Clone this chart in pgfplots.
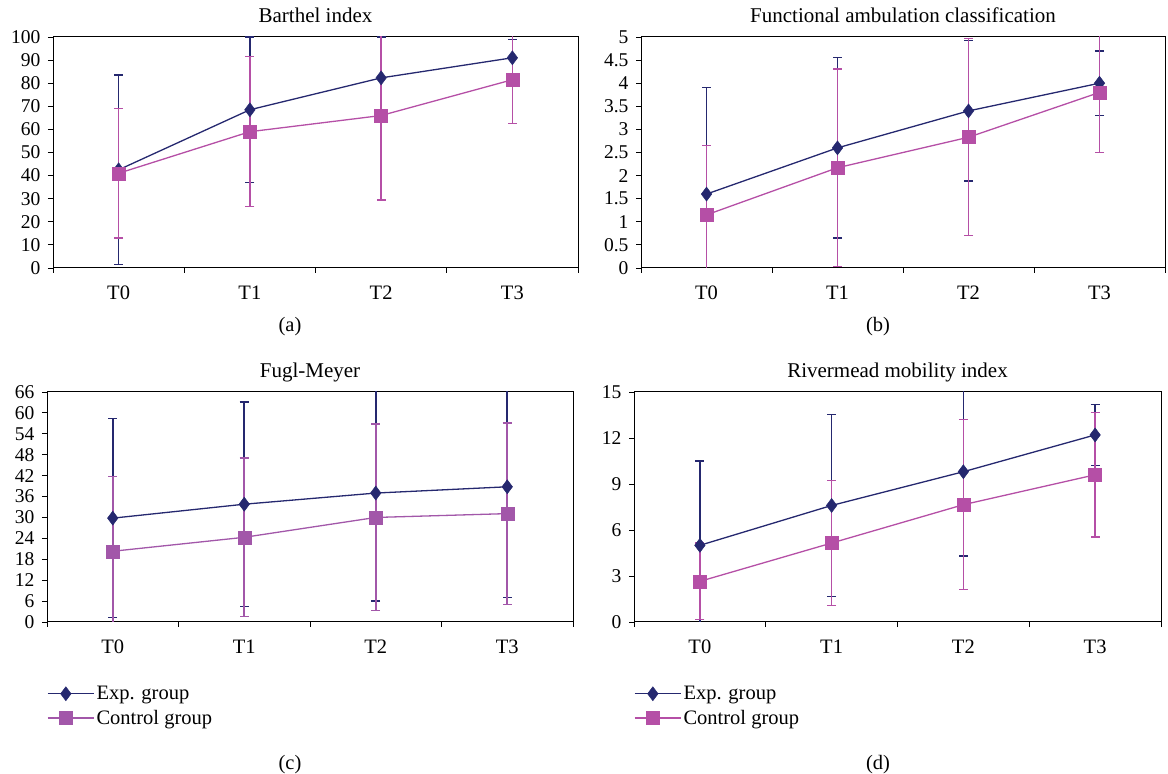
\documentclass[border=0pt]{standalone}
\usepackage{pgfplots}
\pgfplotsset{compat=1.18}
\usepackage{fontspec}
\setmainfont{Liberation Serif}
\definecolor{expc}{HTML}{25286F}
\definecolor{ctlc}{HTML}{B54FA6}
\definecolor{ctlcc}{HTML}{A257A9}
\pgfplotsset{
  panel/.style={
    scale only axis, anchor=south west,
    xmin=-0.5, xmax=3.5,
    xtick={-0.5,0.5,1.5,2.5,3.5}, xticklabels={},
    extra x ticks={0,1,2,3}, extra x tick labels={T0,T1,T2,T3},
    extra x tick style={major tick length=0pt, xticklabel style={yshift=-14pt, font=\fontsize{20.5}{24}\selectfont}},
    tick align=outside, major tick length=5pt,
    xtick pos=bottom, ytick pos=left,
    axis line style={black, line width=1pt},
    tick style={black, line width=0.9pt},
    /pgf/number format/assume math mode=true,
    yticklabel style={/pgf/number format/fixed, xshift=-4pt},
    title style={anchor=base, at={(0.5,1)}, yshift=8.5pt, font=\fontsize{21}{24}\selectfont},
    legend cell align=left,
    legend image code/.code={\draw[mark repeat=2, mark phase=2] plot coordinates {(0pt,0pt) (18pt,0pt) (36pt,0pt)}; \path (0pt,0pt) -- (46pt,0pt);},
    legend style={draw=none, fill=none, inner sep=0pt, anchor=north west, row sep=5pt,
      font=\fontsize{20.5}{24}\selectfont, nodes={inner sep=2pt}},
  },
  expser/.style={color=expc, line width=1.3pt, mark=diamond*, mark size=7pt,
    mark options={solid, fill=expc, line width=0.5pt},
    error bars/.cd, y dir=both, y explicit,
    error bar style={line width=1.7pt, color=expc},
    error mark options={rotate=90, mark size=4.5pt, line width=1.3pt, color=expc}},
  ctlser/.style={color=#1, line width=1.3pt, mark=square*, mark size=6.5pt,
    mark options={solid, fill=#1, line width=0.5pt},
    error bars/.cd, y dir=both, y explicit,
    error bar style={line width=1.7pt, color=#1},
    error mark options={rotate=90, mark size=4.5pt, line width=1.3pt, color=#1}},
}
\begin{document}
\begin{tikzpicture}[font=\fontsize{19.5}{23}\selectfont]
\path[use as bounding box] (0,0) rectangle (1168pt,774pt);

% (a) Barthel index
\begin{axis}[panel, at={(53pt,506pt)}, width=525pt, height=231pt,
  ymin=0, ymax=100, ytick={0,10,...,100}, title={Barthel index}]
\addplot+[expser] coordinates {(0,42.5) +- (0,41) (1,68.5) +- (0,31.5) (2,82.3) +- (0,17.7) (3,91) +- (0,8)};
\addplot+[ctlser=ctlc] coordinates {(0,41) +- (0,28) (1,59) +- (0,32.5) (2,66) +- (0,36.5) (3,81.5) +- (0,19)};
\end{axis}

% (b) FAC
\begin{axis}[panel, at={(641pt,506pt)}, width=524pt, height=231pt,
  ymin=0, ymax=5, ytick={0,0.5,...,5}, title={Functional ambulation classification}]
\addplot+[expser] coordinates {(0,1.6) +- (0,2.3) (1,2.6) +- (0,1.95) (2,3.4) +- (0,1.52) (3,4.0) +- (0,0.7)};
\addplot+[ctlser=ctlc] coordinates {(0,1.15) +- (0,1.5) (1,2.17) +- (0,2.14) (2,2.83) +- (0,2.13) (3,3.8) +- (0,1.3)};
\end{axis}

% (c) Fugl-Meyer
\begin{axis}[panel, at={(47pt,152pt)}, width=526pt, height=230pt,
  ymin=0, ymax=66, ytick={0,6,...,66}, title={Fugl-Meyer},
  legend style={at={(axis description cs:0,-0.27)}}]
\addplot+[expser] coordinates {(0,29.8) +- (0,28.5) (1,33.8) +- (0,29.3) (2,37) +- (0,31) (3,38.8) +- (0,31.8)};
\addplot+[ctlser=ctlcc] coordinates {(0,20.3) +- (0,21.5) (1,24.3) +- (0,22.8) (2,30) +- (0,26.8) (3,31.1) +- (0,26)};
\legend{Exp. group, Control group}
\end{axis}

% (d) Rivermead
\begin{axis}[panel, at={(634pt,152pt)}, width=527pt, height=230pt,
  ymin=0, ymax=15, ytick={0,3,...,15}, title={Rivermead mobility index},
  legend style={at={(axis description cs:0,-0.27)}}]
\addplot+[expser] coordinates {(0,5.0) +- (0,5.5) (1,7.6) +- (0,5.95) (2,9.8) +- (0,5.5) (3,12.2) +- (0,2.0)};
\addplot+[ctlser=ctlc] coordinates {(0,2.65) +- (0,2.5) (1,5.15) +- (0,4.07) (2,7.65) +- (0,5.55) (3,9.6) +- (0,4.05)};
\legend{Exp. group, Control group}
\end{axis}

\node[font=\fontsize{20.5}{24}\selectfont] at (290pt,447pt) {(a)};
\node[font=\fontsize{20.5}{24}\selectfont] at (878pt,447pt) {(b)};
\node[font=\fontsize{20.5}{24}\selectfont] at (290pt,9pt) {(c)};
\node[font=\fontsize{20.5}{24}\selectfont] at (878pt,9pt) {(d)};
\end{tikzpicture}
\end{document}
